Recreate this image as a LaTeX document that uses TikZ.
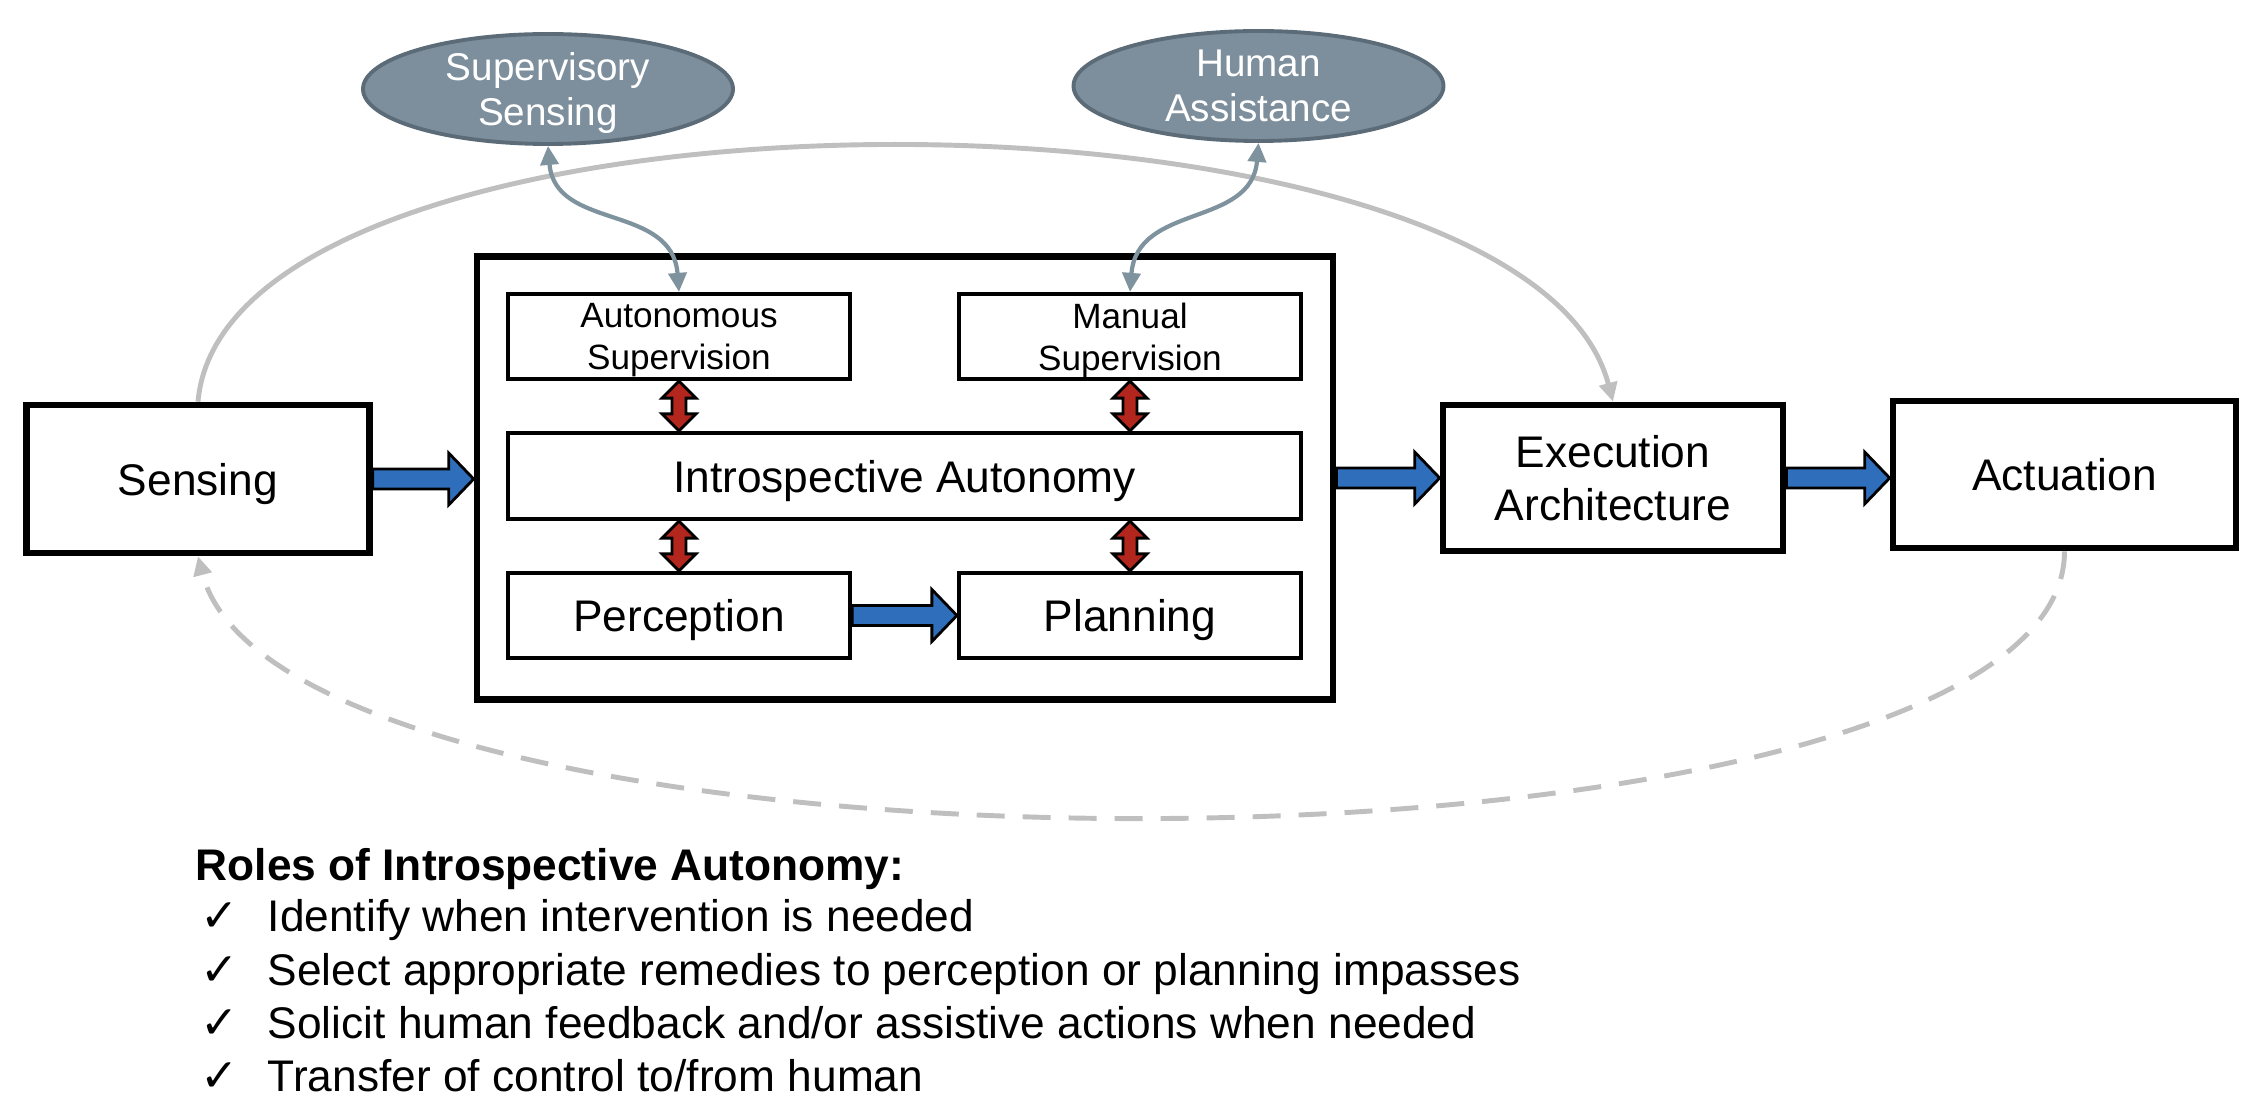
\documentclass[tikz,border=0pt]{standalone}
\usepackage{fontspec}
\setmainfont{Liberation Sans}
\newfontfamily\tickfont{DejaVu Sans}
\usepackage{tikz}
\usetikzlibrary{arrows.meta,shapes.geometric,calc}
\definecolor{blockblue}{HTML}{2F6EBA}
\definecolor{blockred}{HTML}{B3261E}
\definecolor{helperfill}{HTML}{7D8F9C}
\definecolor{helperedge}{HTML}{5B6B77}
\definecolor{wavegray}{HTML}{7F939F}
\definecolor{arcgray}{HTML}{BFBFBF}
\tikzset{stage/.style={rectangle, fill=white, draw=black, line width=1.9pt, align=center, inner sep=0mm, text depth=0pt, font=\fontsize{12.6}{15}\selectfont}}
\tikzset{substage/.style={rectangle, fill=white, draw=black, line width=1.2pt, align=center, inner sep=0mm, text depth=0pt, font=\fontsize{12.6}{15}\selectfont}}
\tikzset{supbox/.style={substage, font=\fontsize{10}{12}\selectfont}}
\tikzset{helper/.style={ellipse, fill=helperfill, draw=helperedge, line width=1.1pt, text=white, align=center, inner sep=0mm, text depth=0pt, font=\fontsize{11}{12.8}\selectfont}}
\tikzset{bluearrow/.style={fill=blockblue, draw=black, line width=0.8pt}}
\tikzset{redarrow/.style={fill=blockred, draw=black, line width=0.8pt}}
\tikzset{wavy/.style={draw=wavegray, line width=1.2pt, {Triangle[length=1.9mm,width=1.8mm]}-{Triangle[length=1.9mm,width=1.8mm]}}}
\tikzset{feedback/.style={draw=arcgray, line width=1.4pt, -{Triangle[length=1.9mm,width=1.8mm]}}}
\tikzset{listline/.style={anchor=base west, inner sep=0mm, font=\fontsize{12.6}{15}\selectfont}}
\tikzset{tick/.style={anchor=base west, inner sep=0mm, font=\tickfont\fontsize{13}{15}\selectfont}}

\newcommand{\blockright}[2]{\draw[bluearrow] let \p1=(#1), \p2=(#2) in
  (\x1,\y1-1mm) -- (\x2-2.5mm,\y1-1mm) -- (\x2-2.5mm,\y1-2.6mm) -- (\x2,\y1)
  -- (\x2-2.5mm,\y1+2.6mm) -- (\x2-2.5mm,\y1+1mm) -- (\x1,\y1+1mm) -- cycle;}
\newcommand{\blockupdown}[2]{\draw[redarrow] let \p1=(#1), \p2=(#2) in
  (\x1,\y1) -- (\x1+1.7mm,\y1-1.7mm) -- (\x1+0.7mm,\y1-1.7mm) -- (\x1+0.7mm,\y2+1.7mm)
  -- (\x1+1.7mm,\y2+1.7mm) -- (\x1,\y2) -- (\x1-1.7mm,\y2+1.7mm) -- (\x1-0.7mm,\y2+1.7mm)
  -- (\x1-0.7mm,\y1-1.7mm) -- (\x1-1.7mm,\y1-1.7mm) -- cycle;}

\begin{document}
\begin{tikzpicture}
    \useasboundingbox (0,0) rectangle (22.62,11.08);

    \node[stage, minimum width=3.43cm, minimum height=1.48cm] (sens) at (1.98, 6.29) {Sensing};
    \node[stage, minimum width=8.56cm, minimum height=4.43cm] (core) at (9.05, 6.30) {};
    \node[stage, minimum width=3.40cm, minimum height=1.46cm] (exec) at (16.13, 6.30) {Execution\\Architecture};
    \node[stage, minimum width=3.43cm, minimum height=1.47cm] (act)  at (20.645, 6.335) {Actuation};

    \node[supbox,   minimum width=3.42cm, minimum height=0.85cm] (asup)  at (6.79, 7.715) {Autonomous\\Supervision};
    \node[supbox,   minimum width=3.42cm, minimum height=0.85cm] (msup)  at (11.30, 7.715) {Manual\\Supervision};
    \node[substage, minimum width=7.93cm, minimum height=0.86cm] (intro) at (9.045, 6.32) {Introspective Autonomy};
    \node[substage, minimum width=3.42cm, minimum height=0.85cm] (perc)  at (6.79, 4.925) {Perception};
    \node[substage, minimum width=3.42cm, minimum height=0.85cm] (plan)  at (11.30, 4.925) {Planning};

    \node[helper, minimum width=3.70cm, minimum height=1.10cm] (ssens) at (5.48, 10.19) {Supervisory\\Sensing};
    \node[helper, minimum width=3.70cm, minimum height=1.10cm] (hass)  at (12.585, 10.22) {Human\\Assistance};

    \draw[feedback] (sens.north) .. controls +(0.3,3.4) and +(-0.9,3.4) .. (exec.north);
    \draw[feedback, dash pattern=on 2.8mm off 1.8mm] (act.south) .. controls +(0,-3.5) and +(0.9,-3.5) .. (sens.south);

    \draw[wavy] (ssens.south) .. controls +(0.07,-0.85) and +(-0.07,0.89) .. (asup.north);
    \draw[wavy] (hass.south)  .. controls +(-0.07,-0.85) and +(0.07,0.89) .. (msup.north);

    \blockright{sens.east}{core.west}
    \blockright{perc.east}{plan.west}
    \blockright{core.east |- exec.west}{exec.west}
    \blockright{exec.east}{act.west}

    \blockupdown{asup.south}{intro.north}
    \blockupdown{msup.south}{intro.north}
    \blockupdown{intro.south -| perc.north}{perc.north}
    \blockupdown{intro.south -| plan.north}{plan.north}

    \node[listline, font=\fontsize{12.6}{15}\selectfont\bfseries] (roles) at (1.95, 2.27) {Roles of Introspective Autonomy:};
    \node[tick]     (t1) at (2.00, 1.76) {✓};
    \node[listline] (r1) at (2.67, 1.76) {Identify when intervention is needed};
    \node[tick]     (t2) at (2.00, 1.23) {✓};
    \node[listline] (r2) at (2.67, 1.23) {Select appropriate remedies to perception or planning impasses};
    \node[tick]     (t3) at (2.00, 0.69) {✓};
    \node[listline] (r3) at (2.67, 0.69) {Solicit human feedback and/or assistive actions when needed};
    \node[tick]     (t4) at (2.00, 0.16) {✓};
    \node[listline] (r4) at (2.67, 0.16) {Transfer of control to/from human};
\end{tikzpicture}
\end{document}
